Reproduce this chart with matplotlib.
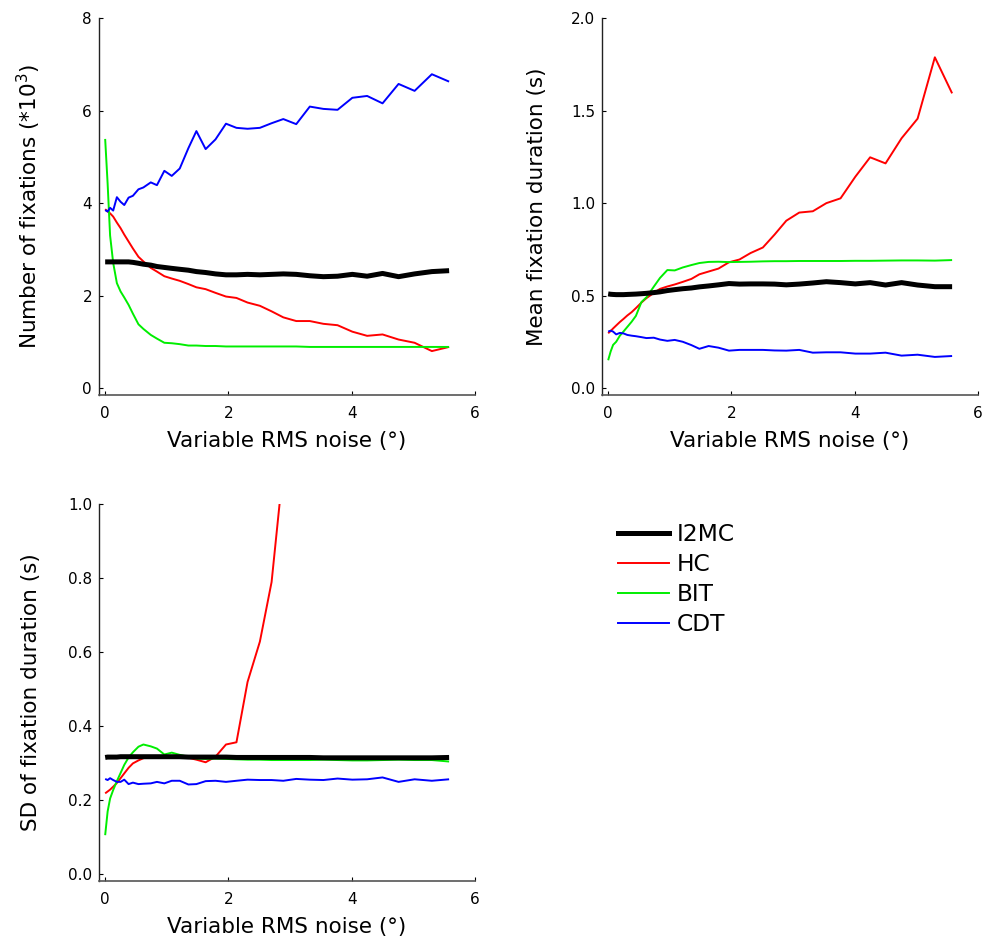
import matplotlib
matplotlib.use("Agg")
import matplotlib.pyplot as plt

plt.rcParams['font.family'] = ['DejaVu Sans']

# ---------------- data ----------------
noise = [0, 0.04, 0.08, 0.13, 0.19, 0.25, 0.31, 0.38, 0.45, 0.54,
         0.62, 0.74, 0.84, 0.96, 1.08, 1.21, 1.35, 1.48, 1.63, 1.79,
         1.96, 2.13, 2.31, 2.51, 2.70, 2.89, 3.10, 3.32, 3.54, 3.77,
         4.01, 4.25, 4.50, 4.76, 5.02, 5.30, 5.58]

methods = ['I2MC', 'HC', 'BIT', 'CDT']

# Number of fixations (*10^3)
i2mc_n = [2.73, 2.73, 2.73, 2.73, 2.73, 2.73, 2.73, 2.73, 2.72, 2.70,
          2.68, 2.66, 2.63, 2.61, 2.59, 2.57, 2.55, 2.52, 2.50, 2.47,
          2.45, 2.45, 2.46, 2.45, 2.46, 2.47, 2.46, 2.43, 2.41, 2.42,
          2.46, 2.42, 2.48, 2.41, 2.47, 2.52, 2.54]
hc_n = [3.87, 3.82, 3.78, 3.71, 3.58, 3.46, 3.32, 3.17, 3.02, 2.84,
        2.74, 2.60, 2.52, 2.42, 2.37, 2.32, 2.25, 2.18, 2.14, 2.06,
        1.98, 1.95, 1.85, 1.78, 1.66, 1.53, 1.45, 1.45, 1.39, 1.36,
        1.22, 1.13, 1.16, 1.05, 0.98, 0.80, 0.89]
bit_n = [5.39, 4.42, 3.30, 2.71, 2.27, 2.09, 1.96, 1.80, 1.61, 1.38,
         1.28, 1.15, 1.07, 0.98, 0.97, 0.95, 0.92, 0.92, 0.91, 0.91,
         0.90, 0.90, 0.90, 0.90, 0.90, 0.90, 0.90, 0.89, 0.89, 0.89,
         0.89, 0.89, 0.89, 0.89, 0.89, 0.89, 0.89]
cdt_n = [3.85, 3.82, 3.90, 3.84, 4.13, 4.03, 3.96, 4.12, 4.16, 4.30,
         4.34, 4.45, 4.39, 4.70, 4.59, 4.75, 5.19, 5.56, 5.17, 5.38,
         5.72, 5.63, 5.61, 5.63, 5.73, 5.82, 5.71, 6.09, 6.04, 6.02,
         6.28, 6.32, 6.16, 6.58, 6.43, 6.79, 6.63]

# Mean fixation duration (s)
i2mc_m = [0.509, 0.507, 0.506, 0.505, 0.505, 0.505, 0.506, 0.507, 0.508, 0.510,
          0.512, 0.516, 0.520, 0.527, 0.532, 0.537, 0.541, 0.547, 0.552, 0.558,
          0.565, 0.562, 0.563, 0.563, 0.562, 0.558, 0.562, 0.568, 0.575, 0.570,
          0.563, 0.570, 0.557, 0.570, 0.557, 0.548, 0.548]
hc_m = [0.296, 0.308, 0.322, 0.338, 0.357, 0.374, 0.392, 0.410, 0.432, 0.462,
        0.486, 0.514, 0.536, 0.549, 0.560, 0.574, 0.590, 0.615, 0.630, 0.646,
        0.680, 0.695, 0.730, 0.760, 0.830, 0.905, 0.949, 0.956, 1.000, 1.026,
        1.143, 1.248, 1.215, 1.351, 1.457, 1.789, 1.594]
bit_m = [0.150, 0.197, 0.233, 0.250, 0.283, 0.306, 0.330, 0.358, 0.390, 0.465,
         0.490, 0.548, 0.595, 0.638, 0.636, 0.652, 0.665, 0.676, 0.682, 0.683,
         0.681, 0.682, 0.683, 0.685, 0.686, 0.686, 0.687, 0.687, 0.687, 0.687,
         0.688, 0.688, 0.689, 0.690, 0.690, 0.689, 0.692]
cdt_m = [0.305, 0.310, 0.305, 0.290, 0.298, 0.295, 0.287, 0.283, 0.280, 0.275,
         0.270, 0.272, 0.262, 0.255, 0.260, 0.250, 0.232, 0.212, 0.227, 0.218,
         0.202, 0.206, 0.206, 0.206, 0.203, 0.202, 0.206, 0.191, 0.193, 0.193,
         0.186, 0.186, 0.191, 0.175, 0.180, 0.168, 0.173]

# SD of fixation duration (s)
i2mc_sd = [0.316, 0.317, 0.317, 0.317, 0.317, 0.318, 0.318, 0.318, 0.318, 0.318,
           0.318, 0.318, 0.318, 0.318, 0.318, 0.318, 0.317, 0.317, 0.317, 0.317,
           0.317, 0.316, 0.316, 0.316, 0.316, 0.316, 0.316, 0.316, 0.315, 0.315,
           0.315, 0.315, 0.315, 0.315, 0.315, 0.315, 0.316]
hc_sd = [0.219, 0.224, 0.229, 0.237, 0.247, 0.260, 0.273, 0.288, 0.300, 0.308,
         0.314, 0.319, 0.320, 0.320, 0.319, 0.318, 0.315, 0.310, 0.303, 0.318,
         0.351, 0.357, 0.520, 0.629, 0.790, 1.100]
bit_sd = [0.106, 0.170, 0.205, 0.228, 0.252, 0.274, 0.296, 0.316, 0.330, 0.345,
          0.351, 0.346, 0.340, 0.324, 0.329, 0.323, 0.318, 0.313, 0.312, 0.313,
          0.312, 0.311, 0.310, 0.310, 0.309, 0.309, 0.309, 0.309, 0.310, 0.309,
          0.308, 0.308, 0.309, 0.310, 0.309, 0.309, 0.305]
cdt_sd = [0.258, 0.255, 0.260, 0.255, 0.250, 0.250, 0.256, 0.244, 0.248, 0.244,
          0.245, 0.246, 0.250, 0.246, 0.253, 0.253, 0.243, 0.244, 0.252, 0.253,
          0.250, 0.253, 0.256, 0.255, 0.255, 0.253, 0.258, 0.256, 0.255, 0.259,
          0.256, 0.257, 0.262, 0.250, 0.257, 0.253, 0.257]

x_ticks = [0, 2, 4, 6]

# ---------------- figure ----------------
W, H = 982, 942
fig = plt.figure(figsize=(W / 100, H / 100), dpi=100)

def px_axes(l, t, r, b):
    return fig.add_axes([l / W, 1 - b / H, (r - l) / W, (b - t) / H])

colors = {'I2MC': 'black', 'HC': '#ff0000', 'BIT': '#00ee00', 'CDT': '#0000ff'}
widths = {'I2MC': 3.6, 'HC': 1.4, 'BIT': 1.4, 'CDT': 1.4}
zorders = {'I2MC': 4, 'HC': 3, 'BIT': 3, 'CDT': 3}

def style(ax, ylim, yticks, ytl, ylabel, ylx):
    ax.set_xlim(-0.1, 6)
    ax.set_ylim(*ylim)
    ax.set_xticks(x_ticks)
    ax.set_xticklabels([str(t) for t in x_ticks])
    ax.set_yticks(yticks)
    ax.set_yticklabels(ytl)
    for s in ['top', 'right']:
        ax.spines[s].set_visible(False)
    ax.spines['left'].set_color('#222222')
    ax.spines['bottom'].set_color('#555555')
    ax.spines['left'].set_linewidth(1.0)
    ax.spines['bottom'].set_linewidth(1.2)
    ax.tick_params(axis='both', direction='in', length=3, width=0.8,
                   labelsize=11, colors='black')
    ax.tick_params(axis='x', pad=8)
    ax.tick_params(axis='y', pad=5)
    ax.set_xlabel('Variable RMS noise (°)', fontsize=15.5)
    ax.xaxis.label.set_va('center')
    ax.xaxis.set_label_coords(0.5, -0.122)
    ax.set_ylabel(ylabel, fontsize=15.5)
    ax.yaxis.label.set_va('center')
    ax.yaxis.set_label_coords(ylx, 0.5)

def draw(ax, series):
    for name in ['HC', 'BIT', 'CDT', 'I2MC']:
        ys = series[name]
        ax.plot(noise[:len(ys)], ys, color=colors[name], lw=widths[name],
                zorder=zorders[name], solid_capstyle='butt', label=name)

ax1 = px_axes(99, 18.3, 475, 395)
draw(ax1, {'I2MC': i2mc_n, 'HC': hc_n, 'BIT': bit_n, 'CDT': cdt_n})
style(ax1, (-0.15, 8), [0, 2, 4, 6, 8], ['0', '2', '4', '6', '8'],
      'Number of fixations (*10$^3$)', -0.186)

ax2 = px_axes(602, 18.3, 978, 395)
draw(ax2, {'I2MC': i2mc_m, 'HC': hc_m, 'BIT': bit_m, 'CDT': cdt_m})
style(ax2, (-0.038, 2.0), [0, 0.5, 1.0, 1.5, 2.0],
      ['0.0', '0.5', '1.0', '1.5', '2.0'], 'Mean fixation duration (s)', -0.173)

ax3 = px_axes(99, 504.3, 475, 880.7)
draw(ax3, {'I2MC': i2mc_sd, 'HC': hc_sd, 'BIT': bit_sd, 'CDT': cdt_sd})
style(ax3, (-0.017, 1.0), [0, 0.2, 0.4, 0.6, 0.8, 1.0],
      ['0.0', '0.2', '0.4', '0.6', '0.8', '1.0'], 'SD of fixation duration (s)', -0.181)

# legend
from matplotlib.lines import Line2D
leg_handles = [Line2D([], [], color=colors[m], lw=widths[m]) for m in methods]
fig.legend(leg_handles, methods, loc='upper left',
           bbox_to_anchor=(618 / W, 1 - 523 / H), frameon=False,
           fontsize=16.8, handlelength=2.2, handletextpad=0.3,
           labelspacing=0.3, borderpad=0, borderaxespad=0)

fig.savefig('out.png', dpi=100)
